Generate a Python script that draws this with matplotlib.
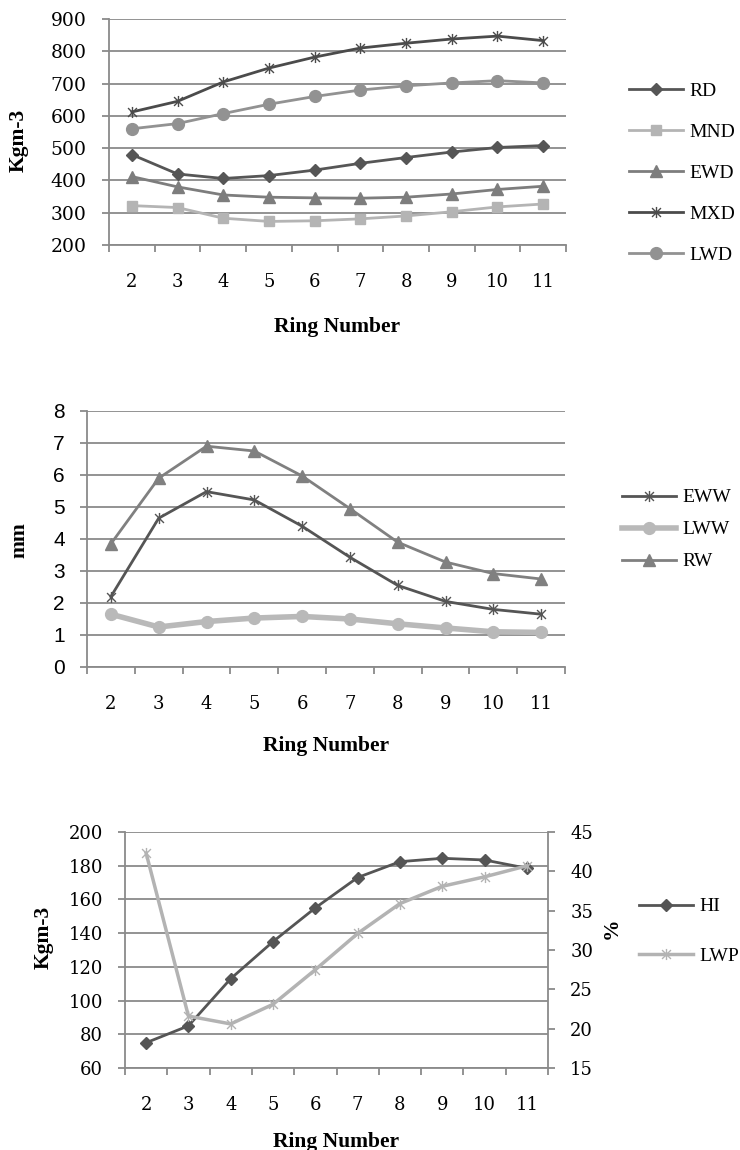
import numpy as np
import matplotlib
matplotlib.use("Agg")
import matplotlib.pyplot as plt
from matplotlib.path import Path

# ring numbers shared by all three panels
rings = ["2", "3", "4", "5", "6", "7", "8", "9", "10", "11"]

# panel 1: densities (Kgm-3)
rd = [480, 420, 406, 415, 432, 453, 471, 488, 502, 508]
mnd = [322, 316, 283, 273, 275, 281, 290, 303, 318, 327]
ewd = [412, 380, 355, 348, 346, 345, 348, 358, 372, 382]
mxd = [612, 645, 705, 748, 782, 810, 825, 838, 847, 833]
lwd = [560, 576, 607, 636, 660, 680, 693, 702, 709, 702]

# panel 2: widths (mm)
eww = [2.2, 4.65, 5.48, 5.22, 4.4, 3.43, 2.55, 2.05, 1.8, 1.65]
lww = [1.65, 1.25, 1.42, 1.53, 1.58, 1.5, 1.35, 1.22, 1.1, 1.08]
rw = [3.85, 5.9, 6.9, 6.75, 5.97, 4.95, 3.9, 3.28, 2.92, 2.75]

# panel 3: heterogeneity index (Kgm-3) and latewood percentage (%)
hi = [75, 85, 113, 135, 155, 173, 182.4, 184.4, 183.4, 178.5]
lwp = [42.3, 21.6, 20.6, 23.1, 27.5, 32.1, 35.9, 38.1, 39.3, 40.7]

SERIF = "Liberation Serif"
NUM = "DejaVu Serif"
SANS = "Liberation Sans"
GRID = "#8a8a8a"
W, H = 740, 1150

# Excel style star marker: an X with a vertical bar
star = Path([(-1, -1), (1, 1), (-1, 1), (1, -1), (0, -1.25), (0, 1.25)],
            [Path.MOVETO, Path.LINETO, Path.MOVETO, Path.LINETO,
             Path.MOVETO, Path.LINETO])

fig = plt.figure(figsize=(W / 100, H / 100), dpi=100)


def box(x0, y0, x1, y1):
    # pixel box (top-left origin) -> figure fraction rect
    return [x0 / W, 1 - y1 / H, (x1 - x0) / W, (y1 - y0) / H]


def style_axes(ax, ylim, yticks, yfont, yfs):
    n = len(rings)
    xx = np.arange(n)
    ax.set_xlim(-0.5, n - 0.5)
    ax.set_ylim(*ylim)
    ax.set_yticks(yticks)
    ax.yaxis.grid(True, color=GRID, linewidth=1.3)
    ax.set_axisbelow(True)
    for s in ["top", "right"]:
        ax.spines[s].set_visible(False)
    for s in ["left", "bottom"]:
        ax.spines[s].set_color(GRID)
        ax.spines[s].set_linewidth(1.3)
    # boundary ticks without labels, labels at category centres
    ax.set_xticks(np.arange(-0.5, n, 1.0))
    ax.set_xticklabels([])
    ax.set_xticks(xx, minor=True)
    ax.set_xticklabels(rings, minor=True, fontfamily=NUM, fontsize=13)
    ax.tick_params(axis="x", which="major", length=5, color=GRID, width=1.3)
    ax.tick_params(axis="x", which="minor", length=0, pad=20)
    ax.tick_params(axis="y", length=5, color=GRID, width=1.3, pad=11)
    for t in ax.get_yticklabels():
        t.set_fontfamily(yfont)
        t.set_fontsize(yfs)
    return xx


def add_legend(ax, handles, labels, x, y, spacing):
    ax.legend(handles, labels, loc="center left",
              bbox_to_anchor=(x / W, 1 - y / H),
              bbox_transform=fig.transFigure, frameon=False,
              handlelength=2.8, labelspacing=spacing, handletextpad=0.3,
              borderpad=0, borderaxespad=0,
              prop={"family": SERIF, "size": 14})


def label(x, y, text, rot=0):
    fig.text(x / W, 1 - y / H, text, rotation=rot, ha="center", va="center",
             fontfamily=SERIF, fontweight="bold", fontsize=15.5)


# ---------------- panel 1 ----------------
ax1 = fig.add_axes(box(109, 19, 566, 245))
xx = style_axes(ax1, (200, 900), range(200, 901, 100), NUM, 13.5)
h = []
h += ax1.plot(xx, rd, color="#565656", lw=2, marker="D", ms=6.5)
h += ax1.plot(xx, mnd, color="#b4b4b4", lw=2, marker="s", ms=7.5)
h += ax1.plot(xx, ewd, color="#7d7d7d", lw=2, marker="^", ms=8.5)
h += ax1.plot(xx, mxd, color="#4b4b4b", lw=2, marker=star, ms=8, mew=1,
              mfc="none")
h += ax1.plot(xx, lwd, color="#929292", lw=2, marker="o", ms=8.5)
add_legend(ax1, h, ["RD", "MND", "EWD", "MXD", "LWD"], 629, 173, 1.21)
label(19, 140, "Kgm-3", 90)
label(337, 327, "Ring Number")

# ---------------- panel 2 ----------------
ax2 = fig.add_axes(box(87, 411, 565, 667))
xx = style_axes(ax2, (0, 8), range(0, 9), SANS, 15)
h = []
h += ax2.plot(xx, eww, color="#555555", lw=2, marker=star, ms=8, mew=1,
              mfc="none")
h += ax2.plot(xx, lww, color="#b9b9b9", lw=4, marker="o", ms=8.5)
h += ax2.plot(xx, rw, color="#808080", lw=2, marker="^", ms=8.5)
add_legend(ax2, h, ["EWW", "LWW", "RW"], 622, 529.5, 0.74)
label(19, 540, "mm", 90)
label(326, 746, "Ring Number")

# ---------------- panel 3 ----------------
ax3 = fig.add_axes(box(125, 832, 548, 1068))
xx = style_axes(ax3, (60, 200), range(60, 201, 20), NUM, 13)
ax3b = ax3.twinx()
ax3b.set_ylim(15, 45)
ax3b.set_yticks(range(15, 46, 5))
for s in ["top", "left", "bottom"]:
    ax3b.spines[s].set_visible(False)
ax3b.spines["right"].set_color(GRID)
ax3b.spines["right"].set_linewidth(1.3)
ax3b.tick_params(axis="y", length=5, color=GRID, width=1.3, pad=11)
for t in ax3b.get_yticklabels():
    t.set_fontfamily(NUM)
    t.set_fontsize(13)
l1, = ax3.plot(xx, hi, color="#555555", lw=2, marker="D", ms=6.5)
l2, = ax3b.plot(xx, lwp, color="#b3b3b3", lw=2.5, marker=star, ms=8, mew=1,
                mfc="none")
add_legend(ax3b, [l1, l2], ["HI", "LWP"], 639, 931.5, 1.65)
label(44, 937, "Kgm-3", 90)
label(612, 928, "%", 90)
label(336, 1142, "Ring Number")

fig.savefig("out.png", dpi=100, facecolor="white")
